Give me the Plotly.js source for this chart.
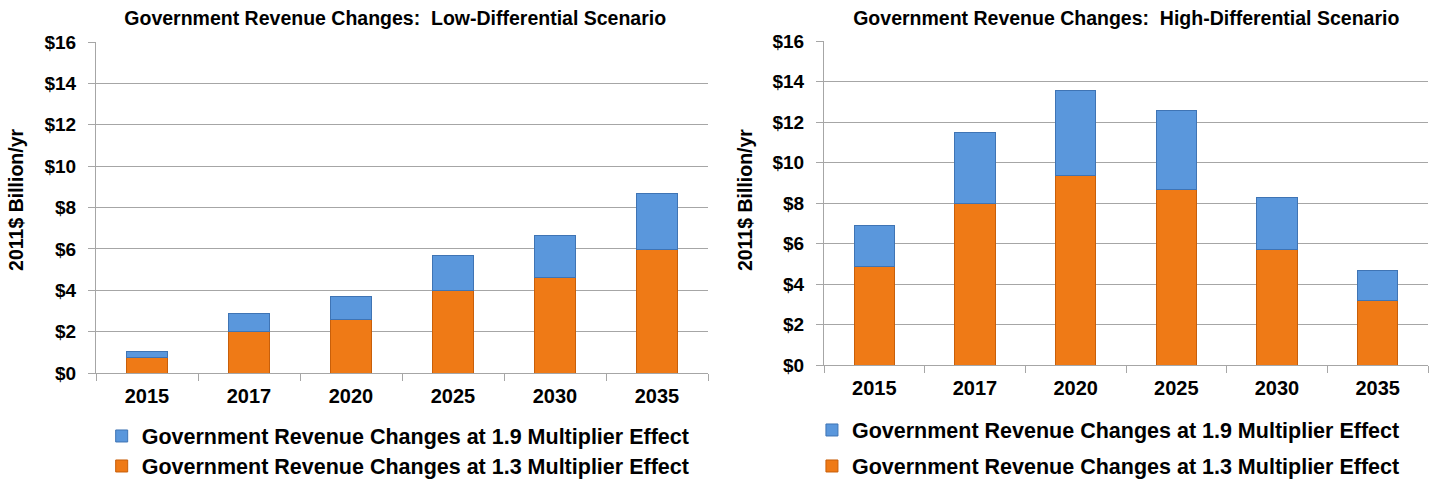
<!DOCTYPE html>
<html>
<head>
<meta charset="utf-8">
<script src="https://cdn.plot.ly/plotly-3.0.1.min.js"></script>
<style>
  html, body { margin: 0; padding: 0; background: #ffffff; }
  #wrap { position: relative; width: 1432px; height: 480px; overflow: hidden; }
  #left { position: absolute; left: 0; top: 0; width: 716px; height: 480px; }
  #right { position: absolute; left: 716px; top: 0; width: 716px; height: 480px; }
</style>
</head>
<body>
<div id="wrap">
  <div id="left"></div>
  <div id="right"></div>
</div>
<script>
// ---- data ----
const years = ['2015', '2017', '2020', '2025', '2030', '2035'];

// Low-differential scenario ($ billion / yr)
const lowAt13 = [0.75, 2.0, 2.59, 3.97, 4.61, 5.97];
const lowAt19 = [1.05, 2.9, 3.71, 5.68, 6.64, 8.69];

// High-differential scenario ($ billion / yr)
const highAt13 = [4.85, 8.0, 9.35, 8.68, 5.72, 3.21];
const highAt19 = [6.9, 11.5, 13.58, 12.57, 8.25, 4.66];

const yTickVals = [0, 2, 4, 6, 8, 10, 12, 14, 16];
const yTickText = ['$0', '$2', '$4', '$6', '$8', '$10', '$12', '$14', '$16'];

const titles = {
  low: 'Government Revenue Changes:  Low-Differential Scenario',
  high: 'Government Revenue Changes:  High-Differential Scenario'
};
const name19 = 'Government Revenue Changes at 1.9 Multiplier Effect';
const name13 = 'Government Revenue Changes at 1.3 Multiplier Effect';
const yTitle = '2011$ Billion/yr';

// ---- styling ----
const ORANGE = '#EF7A16';
const ORANGE_EDGE = '#C85F0A';
const BLUE = '#5A97DC';
const BLUE_EDGE = '#3F74B4';
const GRID = '#A6A6A6';
const FONT = 'Liberation Sans, Arial, sans-serif';

function buildTraces(at13, at19) {
  const extra = at19.map((v, i) => +(v - at13[i]).toFixed(3));
  return [
    {
      type: 'bar', x: years, y: at13, name: name13, legend: 'legend2',
      marker: { color: ORANGE, line: { color: ORANGE_EDGE, width: 1 } },
      hoverinfo: 'x+y'
    },
    {
      type: 'bar', x: years, y: extra, name: name19, legend: 'legend',
      marker: { color: BLUE, line: { color: BLUE_EDGE, width: 1 } },
      hoverinfo: 'x+y'
    }
  ];
}

function legendBox(x, yPix) {
  return {
    orientation: 'h',
    xref: 'container', yref: 'container',
    x: x, xanchor: 'left',
    y: 1 - yPix / 480, yanchor: 'middle',
    font: { family: FONT, size: 21.5, weight: 'bold', color: '#000000' },
    itemwidth: 30,
    bgcolor: 'rgba(0,0,0,0)'
  };
}

function buildLayout(title, m, legendX, leg1Y, leg2Y, titleX, yTitleShift, yTitleY) {
  return {
    width: 716, height: 480,
    paper_bgcolor: '#ffffff', plot_bgcolor: '#ffffff',
    margin: m,
    barmode: 'stack',
    bargap: 0.6,
    showlegend: true,
    font: { family: FONT, color: '#000000' },
    title: {
      text: title,
      font: { family: FONT, size: 19.5, weight: 'bold', color: '#000000' },
      x: titleX, xanchor: 'center', xref: 'container',
      y: 0.962, yanchor: 'middle', yref: 'container'
    },
    xaxis: {
      type: 'category',
      tickson: 'boundaries',
      ticks: 'outside', ticklen: 7, tickcolor: GRID, tickwidth: 1,
      showline: true, linecolor: GRID, linewidth: 1,
      showgrid: false, zeroline: false,
      tickfont: { family: FONT, size: 20, weight: 'bold', color: '#000000' },
      ticklabelstandoff: 5,
      automargin: false,
      fixedrange: true
    },
    yaxis: {
      range: [0, 16],
      tickvals: yTickVals, ticktext: yTickText,
      ticks: 'outside', ticklen: 7, tickcolor: GRID, tickwidth: 1,
      showline: true, linecolor: GRID, linewidth: 1,
      showgrid: true, gridcolor: GRID, gridwidth: 1,
      zeroline: false,
      tickfont: { family: FONT, size: 19, weight: 'bold', color: '#000000' },
      ticklabelstandoff: 8,
      automargin: false,
      fixedrange: true
    },
    annotations: [{
      text: yTitle,
      textangle: -90,
      xref: 'paper', yref: 'paper',
      x: 0, xanchor: 'center', xshift: yTitleShift,
      y: yTitleY, yanchor: 'middle',
      showarrow: false,
      font: { family: FONT, size: 19.5, weight: 'bold', color: '#000000' }
    }],
    legend: legendBox(legendX, leg1Y),
    legend2: legendBox(legendX, leg2Y)
  };
}

const config = { displayModeBar: false, staticPlot: true };

Plotly.newPlot('left',
  buildTraces(lowAt13, lowAt19),
  buildLayout(titles.low, { l: 96, r: 8, t: 42, b: 107 }, 0.142, 436, 466, 0.552, -80, 0.523),
  config);

Plotly.newPlot('right',
  buildTraces(highAt13, highAt19),
  buildLayout(titles.high, { l: 108, r: 4, t: 41, b: 115 }, 0.134, 430, 466, 0.573, -79, 0.509),
  config);
</script>
</body>
</html>
